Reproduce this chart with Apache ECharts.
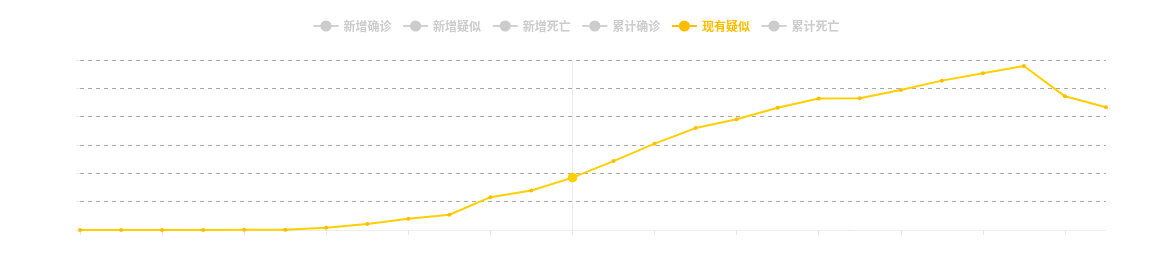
<!DOCTYPE html>
<html>
<head>
<meta charset="utf-8">
<script src="https://cdn.jsdelivr.net/npm/echarts@6/dist/echarts.min.js"></script>
<style>html,body{margin:0;padding:0;background:#fff}#c{width:1152px;height:258px}</style>
</head>
<body>
<div id="c"></div>
<script>
var categories = ['01-16','01-17','01-18','01-19','01-20','01-21','01-22','01-23','01-24','01-25','01-26','01-27','01-28','01-29','01-30','01-31','02-01','02-02','02-03','02-04','02-05','02-06','02-07','02-08','02-09','02-10'];
var seriesNames = ['新增确诊','新增疑似','新增死亡','累计确诊','现有疑似','累计死亡'];
var newConfirmed = [];
var newSuspected = [];
var newDeaths = [];
var totalConfirmed = [];
var currentSuspected = [0,0,0,0,54,37,393,1072,1965,2684,5794,6973,9239,12167,15238,17988,19544,21558,23214,23260,24702,26359,27657,28942,23589,21675];
var totalDeaths = [];
var yTicks = [0,5000,10000,15000,20000,25000,30000];

var activeColor = '#ffbd00';
var chart = echarts.init(document.getElementById('c'));
var dataArrays = [newConfirmed,newSuspected,newDeaths,totalConfirmed,currentSuspected,totalDeaths];
var colors = ['#f06061','#ffa94d','#8a8a8a','#c23531',activeColor,'#555'];
var selected = {};
seriesNames.forEach(function(n){ selected[n] = (n === '现有疑似'); });

chart.setOption({
  animation: false,
  textStyle: {fontFamily: '"Microsoft YaHei","Noto Sans CJK SC",sans-serif'},
  legend: {
    top: 15,
    left: 'center',
    itemGap: 10.6,
    selected: selected,
    inactiveColor: '#ccc',
    textStyle: {fontSize: 12, fontWeight: 'bold', color: '#ccc'},
    data: seriesNames.map(function(n){
      return n === '现有疑似' ? {name: n, textStyle: {color: activeColor}} : {name: n};
    })
  },
  tooltip: {
    trigger: 'axis',
    showContent: false,
    axisPointer: {type: 'line', z: 0, lineStyle: {color: '#eee', width: 1, type: 'solid'}}
  },
  grid: {left: 80, right: 46, top: 60, bottom: 28},
  xAxis: {
    type: 'category',
    boundaryGap: false,
    data: categories,
    axisLabel: {show: false},
    axisLine: {lineStyle: {color: '#eee'}},
    axisTick: {show: true, interval: 1, length: 5, lineStyle: {color: '#e6e6e6'}}
  },
  yAxis: {
    type: 'value',
    min: yTicks[0],
    max: yTicks[yTicks.length-1],
    interval: yTicks[1]-yTicks[0],
    axisLabel: {show: false},
    axisLine: {show: false},
    axisTick: {show: true, length: 4, lineStyle: {color: '#eee'}},
    splitLine: {lineStyle: {color: '#aaa', type: [4,4]}}
  },
  series: seriesNames.map(function(n, i){
    return {
      name: n,
      type: 'line',
      data: dataArrays[i],
      color: colors[i],
      symbol: 'circle',
      symbolSize: 4,
      z: 3,
      lineStyle: {width: 2},
      emphasis: {scale: 2.4}
    };
  })
});
chart.dispatchAction({type: 'showTip', seriesIndex: 4, dataIndex: 12});
</script>
</body>
</html>
